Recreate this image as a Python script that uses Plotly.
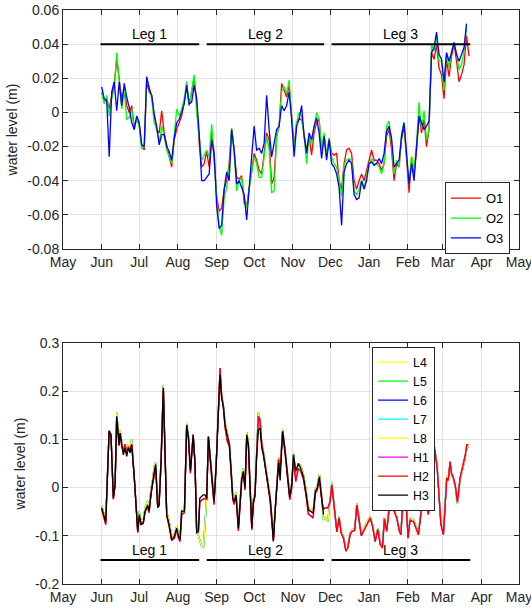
import pandas as pd
import plotly.graph_objects as go

START = "2018-06-01"
FONT = "Liberation Sans, Arial, Helvetica, sans-serif"

# ---------------- top panel: 2-day samples from 1 Jun ----------------
top_dates = pd.date_range(START, periods=148, freq="2D")

O1 = [0.012, 0.006, 0.008, 0.002, 0.010, 0.016, 0.031, 0.018, 0.008, 0.014,
      0.004, 0.000, 0.004, -0.008, -0.004, -0.007, -0.020, -0.022, 0.018, 0.012,
      0.010, -0.002, -0.010, -0.012, 0.001, -0.012, -0.020, -0.026, -0.032, -0.016,
      -0.010, -0.006, -0.002, 0.006, 0.015, 0.004, 0.012, 0.020, 0.006, -0.018,
      -0.032, -0.030, -0.023, -0.032, -0.012, -0.028, -0.049, -0.058, -0.056, -0.045,
      -0.040, -0.030, -0.010, -0.022, -0.038, -0.039, -0.037, -0.053, -0.055, -0.044,
      -0.034, -0.024, -0.028, -0.034, -0.036, -0.022, -0.012, -0.016, -0.042, -0.038,
      -0.014, -0.008, 0.017, 0.013, 0.009, 0.016, -0.004, -0.020, -0.006, -0.004,
      -0.004, -0.012, -0.022, -0.014, -0.025, -0.012, -0.006, -0.004, -0.022, -0.014,
      -0.026, -0.015, -0.024, -0.025, -0.024, -0.040, -0.045, -0.030, -0.022, -0.021,
      -0.024, -0.040, -0.045, -0.040, -0.036, -0.040, -0.034, -0.028, -0.022, -0.028,
      -0.028, -0.030, -0.034, -0.030, -0.014, -0.010, -0.022, -0.040, -0.030, -0.032,
      -0.016, -0.008, -0.028, -0.047, -0.026, -0.036, -0.022, -0.002, -0.012, -0.004,
      -0.020, -0.010, 0.035, 0.031, 0.040, 0.026, 0.022, 0.008, 0.031, 0.021,
      0.033, 0.040, 0.030, 0.018, 0.022, 0.028, 0.045, 0.033]

O2 = [0.012, 0.005, 0.010, -0.002, 0.008, 0.014, 0.035, 0.020, 0.002, 0.013,
      -0.004, -0.003, 0.002, -0.010, -0.004, -0.008, -0.021, -0.020, 0.019, 0.015,
      0.008, -0.006, -0.010, -0.018, -0.008, -0.014, -0.022, -0.026, -0.030, -0.014,
      0.002, -0.002, 0.002, 0.008, 0.018, 0.004, 0.014, 0.022, 0.000, -0.016,
      -0.028, -0.025, -0.022, -0.026, -0.007, -0.024, -0.050, -0.066, -0.072, -0.050,
      -0.044, -0.032, -0.009, -0.024, -0.046, -0.040, -0.038, -0.050, -0.056, -0.045,
      -0.034, -0.026, -0.030, -0.038, -0.038, -0.024, -0.014, -0.022, -0.047, -0.046,
      -0.014, -0.008, 0.012, 0.015, 0.011, 0.019, -0.002, -0.022, -0.006, 0.000,
      -0.002, -0.014, -0.030, -0.014, -0.018, -0.010, 0.000, -0.004, -0.022, -0.012,
      -0.026, -0.015, -0.026, -0.030, -0.032, -0.040, -0.049, -0.030, -0.028, -0.027,
      -0.028, -0.046, -0.048, -0.045, -0.040, -0.044, -0.036, -0.030, -0.027, -0.030,
      -0.030, -0.032, -0.036, -0.030, -0.008, -0.005, -0.018, -0.036, -0.028, -0.032,
      -0.012, -0.006, -0.026, -0.042, -0.026, -0.034, -0.018, 0.006, -0.010, 0.001,
      -0.016, -0.010, 0.040, 0.036, 0.044, 0.030, 0.030, 0.013, 0.035, 0.026,
      0.036, 0.040, 0.035, 0.025, 0.028, 0.036, 0.050, None]

O3 = [0.015, 0.008, 0.007, -0.026, 0.012, 0.018, 0.001, 0.018, 0.004, 0.017,
      0.009, 0.003, -0.006, -0.010, -0.002, -0.006, -0.019, -0.020, 0.021, 0.014,
      0.010, -0.001, -0.008, -0.019, -0.013, -0.013, -0.020, -0.023, -0.028, -0.015,
      -0.006, -0.004, 0.000, 0.005, 0.016, 0.005, 0.006, 0.016, 0.008, -0.012,
      -0.040, -0.040, -0.038, -0.036, -0.016, -0.024, -0.055, -0.068, -0.066, -0.045,
      -0.035, -0.040, -0.010, -0.022, -0.042, -0.040, -0.044, -0.048, -0.063, -0.042,
      -0.026, -0.008, -0.022, -0.021, -0.024, -0.018, 0.010, -0.010, -0.026, -0.018,
      -0.010, -0.008, 0.004, 0.001, 0.004, 0.012, -0.004, -0.026, -0.008, -0.004,
      0.004, -0.014, -0.024, -0.012, -0.016, -0.008, -0.003, -0.012, -0.027, -0.014,
      -0.028, -0.016, -0.030, -0.032, -0.036, -0.044, -0.066, -0.035, -0.030, -0.028,
      -0.030, -0.048, -0.051, -0.050, -0.040, -0.045, -0.040, -0.030, -0.029, -0.031,
      -0.030, -0.027, -0.030, -0.024, -0.011, -0.008, -0.015, -0.032, -0.030, -0.028,
      -0.014, -0.006, -0.024, -0.042, -0.030, -0.040, -0.020, -0.002, -0.006, -0.010,
      -0.008, -0.005, 0.035, 0.038, 0.047, 0.034, 0.031, 0.018, 0.035, 0.030,
      0.035, 0.041, 0.034, 0.030, 0.034, 0.038, 0.052, None]

# ---------------- bottom panel: days after 1 Jun ----------------
bot_days = [0.0, 1.3, 3.2, 5.9, 7.4, 9.3, 10.7, 12.0, 13.9, 14.7,
            16.0, 17.3, 18.7, 20.0, 21.3, 22.7, 24.0, 26.1, 28.8, 30.1,
            31.5, 33.3, 34.7, 36.8, 37.9, 39.5, 40.5, 42.1, 43.2, 44.8,
            45.9, 47.5, 48.5, 49.3, 50.7, 52.0, 53.9, 56.0, 58.2, 60.0,
            61.4, 62.7, 64.0, 66.2, 68.0, 69.4, 71.0, 73.2, 74.7, 76.0,
            77.4, 78.5, 80.0, 81.4, 82.7, 84.0, 85.4, 87.2, 88.8, 89.9,
            91.5, 93.4, 94.7, 96.0, 97.4, 98.7, 100.6, 102.2, 103.3, 104.9,
            106.0, 107.5, 109.4, 110.7, 112.1, 113.4, 114.7, 116.1, 117.4, 118.7,
            120.1, 121.4, 122.7, 124.1, 125.4, 126.7, 128.1, 129.4, 131.5, 133.4,
            134.8, 136.1, 137.4, 138.8, 140.6, 141.6, 142.8, 144.8, 146.8, 148.6,
            150.5, 152.1, 153.5, 155.3, 157.4, 159.3, 161.4, 163.5, 165.4, 167.0,
            169.2, 171.0, 172.6, 174.2, 175.8, 177.5, 178.8, 181.0, 182.8, 184.2,
            186.3, 188.2, 190.0, 191.6, 193.5, 195.4, 197.0, 198.8, 200.2, 202.5,
            204.2, 206.0, 207.8, 209.5, 211.4, 213.2, 214.9, 216.7, 218.9, 221.0,
            222.9, 224.7, 226.3, 228.1, 230.3, 232.1, 234.0, 236.1, 238.3, 239.5,
            241.0, 242.0, 243.6, 245.2, 246.8, 248.2, 249.5, 251.6, 253.5, 254.8,
            256.2, 258.0, 259.6, 261.5, 262.8, 264.5, 266.5, 268.5, 270.0, 271.5,
            273.5, 276.2, 277.4, 278.8, 280.0, 281.5, 283.0, 284.7, 286.8, 288.5,
            289.5, 291.0, 292.2, 293.5]

H3 = [-0.042, -0.056, -0.072, 0.118, 0.110, -0.022, 0.006, 0.148, 0.089, 0.113,
      0.089, 0.068, 0.082, 0.065, 0.082, 0.072, 0.089, 0.020, -0.091, -0.056,
      -0.077, -0.074, -0.049, -0.036, -0.049, -0.008, 0.006, 0.034, 0.048, -0.042,
      -0.036, 0.054, 0.158, 0.207, 0.068, -0.056, -0.077, -0.108, -0.101, -0.084,
      -0.101, -0.108, -0.049, -0.049, 0.130, 0.105, 0.035, 0.108, 0.050, -0.092,
      -0.090, -0.022, -0.018, -0.015, -0.015, -0.022, 0.106, 0.047, -0.008, -0.029,
      0.040, 0.144, 0.234, 0.186, 0.168, 0.130, 0.106, 0.089, 0.047, -0.022,
      -0.029, -0.015, -0.084, -0.022, 0.020, 0.034, 0.000, 0.110, 0.089, 0.006,
      -0.084, -0.029, -0.015, 0.068, 0.120, 0.123, 0.082, 0.068, 0.034, 0.000,
      -0.022, -0.063, -0.112, -0.049, 0.030, 0.052, 0.015, 0.117, 0.075, 0.020,
      -0.020, 0.006, 0.068, 0.034, 0.050, 0.040, 0.023, -0.011, -0.046, -0.049,
      -0.053, -0.008, 0.000, 0.023, -0.015, -0.056, None, None, None, None,
      None, None, None, None, None, None, None, None, None, None,
      None, None, None, None, None, None, None, None, None, None,
      None, None, None, None, None, None, None, None, None, None,
      None, None, None, None, None, None, None, None, None, None,
      None, None, None, None, None, None, None, None, None, None,
      None, None, None, None, None, None, None, None, None, None,
      None, None, None, None]

H2 = [-0.045, -0.058, -0.077, 0.116, 0.108, -0.024, 0.004, 0.145, 0.087, 0.112,
      0.086, 0.075, 0.090, 0.070, 0.085, 0.075, 0.090, 0.018, -0.093, -0.060,
      -0.075, -0.072, -0.050, -0.040, -0.052, -0.010, 0.004, 0.030, 0.040, -0.040,
      -0.038, 0.050, 0.155, 0.205, 0.065, -0.058, -0.080, -0.110, -0.105, -0.088,
      -0.104, -0.112, -0.056, -0.052, 0.128, 0.100, 0.030, 0.110, 0.045, -0.094,
      -0.092, -0.030, -0.026, -0.024, -0.022, -0.025, 0.104, 0.045, -0.012, -0.035,
      0.040, 0.150, 0.248, 0.190, 0.165, 0.125, 0.095, 0.085, 0.045, -0.025,
      -0.035, -0.018, -0.090, -0.025, 0.015, 0.030, -0.005, 0.105, 0.085, 0.000,
      -0.088, -0.032, -0.018, 0.075, 0.148, 0.140, 0.090, 0.070, 0.030, -0.005,
      -0.028, -0.068, -0.110, -0.050, 0.035, 0.058, 0.035, 0.115, 0.070, 0.015,
      -0.025, 0.000, 0.060, 0.013, 0.040, 0.034, 0.018, -0.015, -0.055, -0.058,
      -0.063, -0.012, -0.004, 0.018, -0.020, -0.045, -0.042, -0.042, -0.029, 0.006,
      -0.049, -0.092, -0.063, -0.094, -0.105, -0.132, -0.125, -0.098, -0.091, -0.089,
      -0.036, -0.070, -0.100, -0.091, -0.080, -0.070, -0.063, -0.080, -0.112, -0.087,
      -0.118, -0.125, -0.065, -0.091, -0.036, 0.003, -0.049, -0.063, -0.091, -0.098,
      -0.029, 0.006, -0.030, -0.105, -0.067, -0.070, -0.070, -0.087, -0.098, -0.070,
      -0.039, -0.042, -0.034, -0.056, 0.030, 0.070, 0.080, 0.040, -0.020, -0.077,
      -0.098, 0.020, 0.015, 0.054, 0.030, 0.020, 0.005, -0.029, 0.020, 0.040,
      0.047, 0.068, 0.089, 0.089]

LV = [-0.038, -0.050, -0.068, 0.118, 0.112, -0.018, 0.010, 0.155, 0.095, 0.118,
      0.092, 0.075, 0.088, 0.072, 0.090, 0.080, 0.100, 0.025, -0.085, -0.050,
      -0.070, -0.068, -0.042, -0.028, -0.042, -0.002, 0.012, 0.045, 0.052, -0.038,
      -0.030, 0.060, 0.165, 0.212, 0.072, -0.050, -0.070, -0.100, -0.096, -0.080,
      -0.096, -0.104, -0.046, -0.045, 0.132, 0.108, 0.040, 0.110, 0.052, -0.092,
      -0.100, -0.108, -0.122, -0.125, -0.077, -0.022, 0.106, 0.050, -0.005, -0.025,
      0.045, 0.150, 0.240, 0.190, 0.170, 0.135, 0.110, 0.092, 0.050, -0.015,
      -0.025, -0.010, -0.080, -0.018, 0.025, 0.040, 0.005, 0.115, 0.092, 0.010,
      -0.080, -0.025, -0.010, 0.080, 0.155, 0.140, 0.090, 0.075, 0.040, 0.005,
      -0.018, -0.058, -0.105, -0.045, 0.040, 0.062, 0.040, 0.120, 0.078, 0.025,
      -0.015, 0.010, 0.070, 0.030, 0.050, 0.045, 0.028, -0.005, -0.042, -0.045,
      -0.050, -0.004, 0.004, 0.028, -0.010, -0.067, -0.062, -0.070, -0.025, 0.010,
      -0.045, -0.088, -0.060, -0.090, -0.102, -0.128, -0.122, -0.095, -0.088, -0.085,
      -0.033, -0.066, -0.097, -0.088, -0.076, -0.067, -0.060, -0.077, -0.108, -0.084,
      -0.114, -0.120, -0.062, -0.087, -0.033, 0.006, -0.046, -0.060, -0.088, -0.094,
      -0.026, 0.010, -0.027, -0.100, -0.063, -0.066, -0.066, -0.083, -0.094, -0.066,
      -0.035, -0.038, -0.030, -0.052, 0.034, 0.074, 0.084, 0.044, -0.016, -0.073,
      -0.094, 0.024, 0.018, 0.050, 0.028, 0.018, 0.002, -0.034, 0.015, 0.035,
      0.042, 0.062, 0.082, 0.085]

bot_names = ["L4", "L5", "L6", "L7", "L8", "H1", "H2", "H3"]
bot_colors = ["#ffff00", "#00ff00", "#0000ff", "#00ffff", "#ffff00", "#ff00ff", "#ff0000", "#000000"]
bot_series = [LV, LV, LV, LV, LV, H2, H2, H3]

# ---------------- leg bars ----------------
leg_names = ["Leg 1", "Leg 2", "Leg 3"]
leg_start = ["2018-05-31", "2018-08-24", "2018-12-02"]
leg_end = ["2018-08-18", "2018-11-26", "2019-03-23"]
leg_level_top = 0.04
leg_level_bot = -0.15

top_names = ["O1", "O2", "O3"]
top_colors = ["#ff0000", "#00ff00", "#0000ff"]
top_series = [O1, O2, O3]

month_ticks = ["2018-05-01", "2018-06-01", "2018-07-01", "2018-08-01", "2018-09-01",
               "2018-10-01", "2018-11-01", "2018-12-01", "2019-01-01", "2019-02-01",
               "2019-03-01", "2019-04-01", "2019-05-01"]
month_labels = ["May", "Jun", "Jul", "Aug", "Sep", "Oct", "Nov", "Dec",
                "Jan", "Feb", "Mar", "Apr", "May"]

top_ticks = [-0.08, -0.06, -0.04, -0.02, 0, 0.02, 0.04, 0.06]
top_ticktext = ["-0.08", "-0.06", "-0.04", "-0.02", "0", "0.02", "0.04", "0.06"]
bot_ticks = [-0.2, -0.1, 0, 0.1, 0.2, 0.3]
bot_ticktext = ["-0.2", "-0.1", "0", "0.1", "0.2", "0.3"]

bot_dates = pd.Timestamp(START) + pd.to_timedelta(bot_days, unit="D")

fig = go.Figure()

for name, col, vals in zip(top_names, top_colors, top_series):
    fig.add_trace(go.Scatter(x=top_dates, y=vals, mode="lines", name=name,
                             line=dict(color=col, width=1.3),
                             xaxis="x", yaxis="y", legend="legend"))

for name, col, vals in zip(bot_names, bot_colors, bot_series):
    fig.add_trace(go.Scatter(x=bot_dates, y=vals, mode="lines", name=name,
                             line=dict(color=col, width=1.3),
                             xaxis="x2", yaxis="y2", legend="legend2"))

annotations = []
for nm, s, e in zip(leg_names, leg_start, leg_end):
    mid = pd.Timestamp(s) + (pd.Timestamp(e) - pd.Timestamp(s)) / 2
    for ax, lvl in (("", leg_level_top), ("2", leg_level_bot)):
        fig.add_trace(go.Scatter(x=[s, e], y=[lvl, lvl], mode="lines",
                                 line=dict(color="#000000", width=2),
                                 showlegend=False, xaxis="x" + ax, yaxis="y" + ax))
        annotations.append(dict(x=mid, y=lvl, xref="x" + ax, yref="y" + ax,
                                text=nm, showarrow=False, yshift=10,
                                font=dict(size=14, color="#000000", family=FONT)))

axis_common = dict(showline=True, linecolor="#262626", linewidth=1, mirror="ticks",
                   ticks="inside", ticklen=5, tickcolor="#262626", automargin=False,
                   showgrid=True, gridcolor="#e3e3e3", gridwidth=1, zeroline=False,
                   tickfont=dict(size=14, color="#262626", family=FONT))

xcommon = dict(type="date", range=["2018-05-01", "2019-05-01"],
               tickmode="array", tickvals=month_ticks, ticktext=month_labels,
               ticklabeloverflow="allow", **axis_common)

fig.update_layout(
    width=531, height=614,
    margin=dict(l=63, r=12, t=10, b=30),
    paper_bgcolor="white", plot_bgcolor="white",
    font=dict(family=FONT, size=14, color="#262626"),
    xaxis=dict(domain=[0, 1], anchor="y", **xcommon),
    xaxis2=dict(domain=[0, 1], anchor="y2", **xcommon),
    yaxis=dict(domain=[0.5836, 1.0], anchor="x", range=[-0.08, 0.06],
               tickvals=top_ticks, ticktext=top_ticktext,
               title=dict(text="water level (m)", standoff=6,
                          font=dict(size=14, color="#262626")), **axis_common),
    yaxis2=dict(domain=[0, 0.4199], anchor="x2", range=[-0.2, 0.3],
                tickvals=bot_ticks, ticktext=bot_ticktext,
                title=dict(text="water level (m)", standoff=6,
                           font=dict(size=14, color="#262626")), **axis_common),
    legend=dict(x=0.98, y=0.70, xanchor="right", yanchor="top",
                bordercolor="#262626", borderwidth=1, bgcolor="white",
                font=dict(size=13, color="#000000"), tracegroupgap=0, itemwidth=30),
    legend2=dict(x=0.816, y=0.4134, xanchor="right", yanchor="top",
                 bordercolor="#262626", borderwidth=1, bgcolor="white",
                 font=dict(size=12.3, color="#000000"), tracegroupgap=0, itemwidth=30),
    annotations=annotations,
    showlegend=True,
)

fig.write_html("out.html", config={"displayModeBar": False},
               post_script="document.body.style.margin='0';document.body.style.padding='0';")
